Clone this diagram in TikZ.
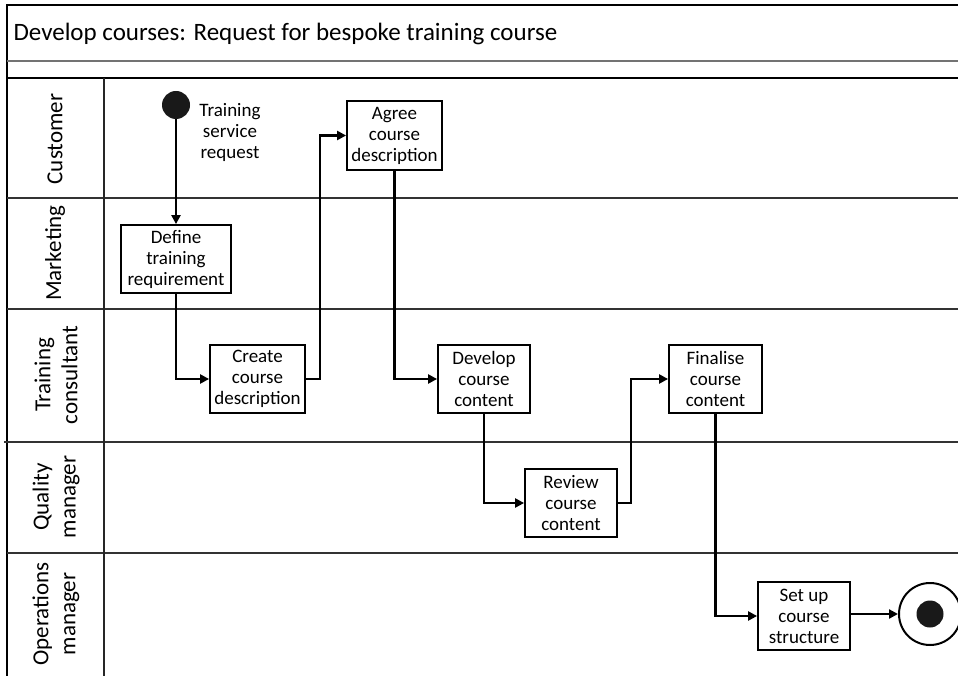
\documentclass[tikz,border=0pt]{standalone}
\usepackage{fontspec}
\setmainfont{Carlito}
\usetikzlibrary{arrows.meta}
\begin{document}
\begin{tikzpicture}[x=1pt,y=-1pt,
  lane/.style={draw=black!80,line width=1.3pt},
  task/.style={draw,line width=1.8pt,minimum height=68pt,align=center,
    inner sep=1pt,font=\fontsize{19}{21}\selectfont},
  flow/.style={line width=2.2pt,-{Triangle[length=9pt,width=9pt]}},
  lanelabel/.style={rotate=90,align=center,font=\fontsize{23}{27}\selectfont}]
\useasboundingbox (0,0) rectangle (958,676);
\fill[white] (0,0) rectangle (958,676);
% frame and title band
\draw[line width=1.3pt] (958,5) -- (7,5) -- (7,676);
\draw[draw=black!55,line width=2pt] (7,61) -- (958,61);
\draw[line width=1.3pt] (7,78) -- (958,78);
\node[anchor=west,font=\fontsize{25}{28}\selectfont] (title) at (10,34)
  {Develop courses: Request for bespoke training course};
% lane separators
\draw[lane] (7,198) -- (958,198);
\draw[lane] (7,309) -- (958,309);
\draw[lane] (4,442) -- (958,442);
\draw[lane] (7,553) -- (958,553);
\draw[line width=2.6pt,black!85] (104,78) -- (104,676);
% lane labels
\node[lanelabel] (lcust) at (55,139) {Customer};
\node[lanelabel] (lmark) at (55,253) {Marketing};
\node[lanelabel] (ltrain) at (56,375) {Training\\consultant};
\node[lanelabel] (lqual) at (56,497) {Quality\\manager};
\node[lanelabel] (lops) at (56,614) {Operations\\manager};
% events
\node[circle,fill=black!90,minimum size=28pt,inner sep=0pt] (start) at (176,105) {};
\node[align=center,font=\fontsize{19}{21}\selectfont] (startlbl) at (230,132)
  {Training\\service\\request};
\node[circle,draw,line width=2pt,minimum size=62pt,inner sep=0pt] (end) at (930,614) {};
\node[circle,fill=black!90,minimum size=27pt,inner sep=0pt] (enddot) at (end.center) {};
% tasks
\node[task,minimum width=110pt] (define) at (176,259) {Define\\training\\requirement};
\node[task,minimum width=95pt] (create) at (257.5,379) {Create\\course\\description};
\node[task,minimum width=95pt,minimum height=69pt] (agree) at (394.5,135.5) {Agree\\course\\description};
\node[task,minimum width=92pt] (develop) at (484,379) {Develop\\course\\content};
\node[task,minimum width=92pt] (review) at (571,503) {Review\\course\\content};
\node[task,minimum width=93pt] (finalise) at (715.5,379) {Finalise\\course\\content};
\node[task,minimum width=92pt] (setup) at (804,616) {Set up\\course\\structure};
% sequence flows
\draw[flow] (start) -- (define);
\draw[flow] (define.south) |- (create.west);
\draw[flow] (create.east) -- ++(14,0) |- (agree.west);
\draw[flow] (agree.south) |- (develop.west);
\draw[flow] (develop.south) |- (review.west);
\draw[flow] (review.east) -- ++(13,0) |- (finalise.west);
\draw[flow] (finalise.south) |- (setup.west);
\draw[flow] (setup.east |- end.west) -- (end.west);
\end{tikzpicture}
\end{document}
